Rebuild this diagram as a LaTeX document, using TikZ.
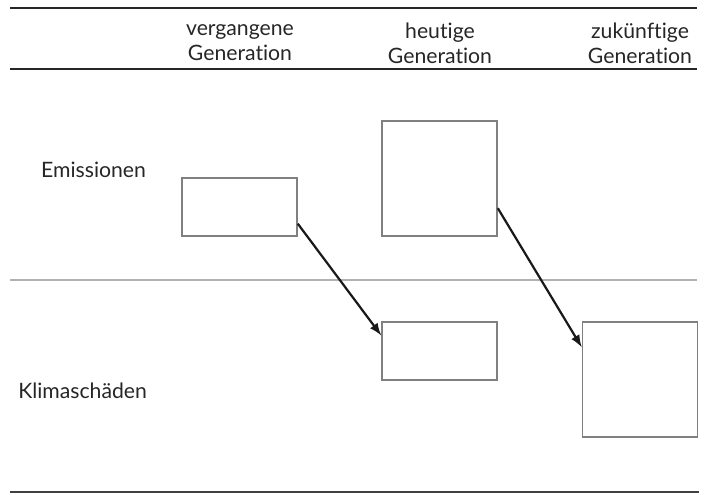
\documentclass[tikz,border=0pt]{standalone}
\usepackage{fontspec}
\setmainfont{Lato}[Ligatures=NoCommon]
\usepackage{tikz}

\begin{document}
\begin{tikzpicture}[x=0.5pt, y=-0.5pt, >=latex,
  feld/.style = {draw=black!50, line width=0.8pt, inner sep=0pt, minimum width=57.5pt},
  flach/.style = {feld, minimum height=29pt},
  hoch/.style = {feld, minimum height=57.5pt},
  kopf/.style = {align=center, font=\fontsize{10.6}{12.5}\selectfont, text=black!85},
  zeile/.style = {anchor=east, font=\fontsize{10.6}{12.5}\selectfont, text=black!85},
  pfeil/.style = {->, line width=1.1pt, black!90}]
  \useasboundingbox (0,0) rectangle (705,494);

  % Linien der Tabelle
  \draw[line width=1.4pt, black!85] (10, 8) -- (697, 8);
  \draw[line width=1.4pt, black!85] (10, 69) -- (697, 69);
  \draw[line width=1pt, black!30] (10, 280) -- (697, 280);
  \draw[line width=1pt, black!75] (10, 492) -- (699, 492);

  \node[kopf] (vg) at (240, 43) {vergangene\\Generation};
  \node[kopf] (hg) at (440, 43) {heutige\\Generation};
  \node[kopf] (zg) at (640, 43) {zukünftige\\Generation};

  \node[zeile] (em) at (153, 170) {Emissionen};
  \node[zeile] (ks) at (154, 391) {Klimaschäden};

  \node[flach] (vem) at (239.5, 207) {};
  \node[hoch] (hem) at (439.5, 178.5) {};
  \node[flach] (hks) at (439.5, 351) {};
  \node[hoch] (zks) at (640, 379.5) {};

  \draw[pfeil] (vem.-16) -- (hks.165);
  \draw[pfeil] (hem.-27) -- (zks.151);
\end{tikzpicture}
\end{document}
